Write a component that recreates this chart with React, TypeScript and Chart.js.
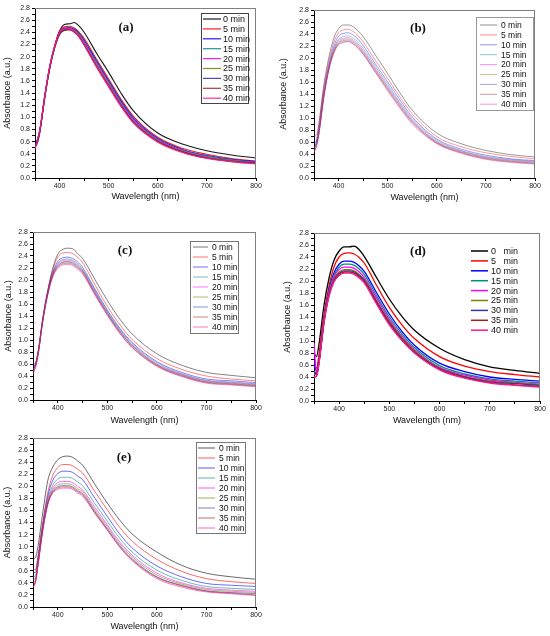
import { useEffect, useRef } from "react";
import { Chart, registerables } from "chart.js";

Chart.register(...registerables);
Chart.defaults.font.family = '"Liberation Sans", Arial, sans-serif';

// ---------- data ----------
const WAVELENGTHS = [350, 355, 360, 370, 380, 390, 400, 410, 420, 430, 440, 450, 475, 500, 525, 550, 600, 650, 700, 750, 800];
const TIME_LABELS = ["0 min", "5 min", "10 min", "15 min", "20 min", "25 min", "30 min", "35 min", "40 min"];
const TIME_LABELS_D = ["0   min", "5   min", "10 min", "15 min", "20 min", "25 min", "30 min", "35 min", "40 min"];
const X_TICK_STEP = 50;
const X_LABEL_STEP = 100;
const Y_TICK_STEP = 0.1;

const PANEL_A = [
  [0.50, 0.58, 0.76, 1.33, 1.80, 2.16, 2.42, 2.53, 2.54, 2.56, 2.50, 2.40, 2.06, 1.74, 1.40, 1.11, 0.74, 0.56, 0.45, 0.38, 0.33],
  [0.52, 0.62, 0.80, 1.36, 1.84, 2.18, 2.42, 2.49, 2.50, 2.47, 2.40, 2.30, 1.96, 1.63, 1.30, 1.02, 0.67, 0.49, 0.39, 0.32, 0.28],
  [0.55, 0.64, 0.80, 1.36, 1.84, 2.17, 2.40, 2.47, 2.48, 2.45, 2.38, 2.27, 1.93, 1.60, 1.27, 0.99, 0.65, 0.47, 0.37, 0.31, 0.27],
  [0.52, 0.62, 0.79, 1.35, 1.83, 2.16, 2.39, 2.46, 2.47, 2.44, 2.37, 2.25, 1.91, 1.58, 1.25, 0.97, 0.64, 0.46, 0.36, 0.30, 0.26],
  [0.50, 0.61, 0.79, 1.35, 1.83, 2.16, 2.38, 2.45, 2.46, 2.43, 2.35, 2.23, 1.89, 1.56, 1.23, 0.96, 0.63, 0.45, 0.35, 0.29, 0.26],
  [0.50, 0.60, 0.78, 1.34, 1.82, 2.15, 2.37, 2.44, 2.45, 2.42, 2.34, 2.21, 1.87, 1.54, 1.21, 0.94, 0.62, 0.44, 0.34, 0.29, 0.25],
  [0.52, 0.61, 0.78, 1.34, 1.82, 2.15, 2.37, 2.44, 2.45, 2.41, 2.33, 2.20, 1.85, 1.52, 1.20, 0.93, 0.61, 0.43, 0.33, 0.28, 0.25],
  [0.50, 0.60, 0.77, 1.33, 1.81, 2.14, 2.36, 2.43, 2.44, 2.40, 2.32, 2.19, 1.84, 1.51, 1.19, 0.92, 0.60, 0.43, 0.33, 0.27, 0.24],
  [0.48, 0.62, 0.80, 1.36, 1.84, 2.17, 2.40, 2.47, 2.46, 2.41, 2.32, 2.19, 1.83, 1.50, 1.18, 0.91, 0.59, 0.42, 0.32, 0.27, 0.23],
];

const PANEL_B = [
  [0.45, 0.62, 0.90, 1.55, 2.00, 2.32, 2.49, 2.55, 2.55, 2.52, 2.45, 2.36, 2.05, 1.74, 1.42, 1.13, 0.75, 0.57, 0.46, 0.39, 0.35],
  [0.70, 0.72, 0.90, 1.50, 1.94, 2.25, 2.42, 2.47, 2.48, 2.44, 2.37, 2.27, 1.96, 1.66, 1.35, 1.07, 0.69, 0.52, 0.42, 0.36, 0.32],
  [0.58, 0.62, 0.82, 1.44, 1.88, 2.19, 2.36, 2.41, 2.42, 2.38, 2.31, 2.21, 1.90, 1.60, 1.30, 1.02, 0.65, 0.48, 0.38, 0.32, 0.29],
  [0.50, 0.58, 0.78, 1.40, 1.85, 2.15, 2.31, 2.36, 2.37, 2.33, 2.26, 2.16, 1.86, 1.56, 1.26, 0.99, 0.63, 0.46, 0.36, 0.31, 0.28],
  [0.48, 0.56, 0.76, 1.38, 1.83, 2.13, 2.29, 2.33, 2.34, 2.30, 2.23, 2.13, 1.83, 1.53, 1.24, 0.97, 0.61, 0.45, 0.35, 0.30, 0.27],
  [0.44, 0.54, 0.75, 1.37, 1.82, 2.11, 2.27, 2.31, 2.32, 2.28, 2.21, 2.11, 1.81, 1.51, 1.22, 0.95, 0.60, 0.44, 0.34, 0.29, 0.26],
  [0.52, 0.56, 0.75, 1.36, 1.81, 2.10, 2.25, 2.29, 2.30, 2.26, 2.19, 2.09, 1.79, 1.49, 1.20, 0.94, 0.59, 0.43, 0.33, 0.28, 0.25],
  [0.45, 0.53, 0.74, 1.35, 1.80, 2.08, 2.23, 2.27, 2.28, 2.24, 2.17, 2.07, 1.77, 1.47, 1.18, 0.92, 0.58, 0.42, 0.32, 0.27, 0.24],
  [0.42, 0.52, 0.73, 1.34, 1.79, 2.07, 2.22, 2.26, 2.27, 2.23, 2.16, 2.06, 1.76, 1.45, 1.16, 0.90, 0.57, 0.41, 0.31, 0.26, 0.23],
];

const PANEL_C = [
  [0.55, 0.60, 0.78, 1.38, 1.84, 2.20, 2.43, 2.51, 2.53, 2.52, 2.44, 2.36, 2.01, 1.66, 1.35, 1.10, 0.77, 0.58, 0.46, 0.41, 0.37],
  [0.60, 0.62, 0.80, 1.38, 1.83, 2.17, 2.38, 2.45, 2.46, 2.44, 2.38, 2.29, 1.92, 1.56, 1.26, 1.01, 0.69, 0.51, 0.40, 0.35, 0.32],
  [0.52, 0.60, 0.78, 1.36, 1.81, 2.13, 2.31, 2.37, 2.38, 2.36, 2.30, 2.21, 1.85, 1.50, 1.20, 0.96, 0.64, 0.46, 0.35, 0.32, 0.29],
  [0.50, 0.58, 0.77, 1.35, 1.80, 2.11, 2.28, 2.34, 2.35, 2.33, 2.27, 2.18, 1.83, 1.48, 1.18, 0.94, 0.62, 0.44, 0.33, 0.30, 0.27],
  [0.48, 0.57, 0.76, 1.34, 1.79, 2.10, 2.26, 2.32, 2.33, 2.31, 2.25, 2.16, 1.81, 1.46, 1.16, 0.92, 0.60, 0.43, 0.32, 0.29, 0.26],
  [0.46, 0.56, 0.75, 1.34, 1.78, 2.09, 2.24, 2.30, 2.31, 2.29, 2.23, 2.15, 1.79, 1.45, 1.15, 0.91, 0.59, 0.42, 0.31, 0.28, 0.25],
  [0.52, 0.57, 0.75, 1.33, 1.78, 2.08, 2.23, 2.29, 2.30, 2.28, 2.22, 2.14, 1.78, 1.44, 1.14, 0.90, 0.58, 0.41, 0.30, 0.27, 0.24],
  [0.45, 0.55, 0.74, 1.33, 1.77, 2.07, 2.21, 2.27, 2.28, 2.26, 2.20, 2.12, 1.76, 1.42, 1.12, 0.88, 0.57, 0.40, 0.29, 0.26, 0.23],
  [0.43, 0.54, 0.74, 1.32, 1.76, 2.05, 2.19, 2.25, 2.26, 2.24, 2.18, 2.10, 1.75, 1.41, 1.11, 0.87, 0.56, 0.39, 0.28, 0.25, 0.22],
];

const PANEL_D = [
  [0.80, 0.74, 0.95, 1.60, 2.05, 2.35, 2.50, 2.57, 2.57, 2.58, 2.52, 2.41, 2.05, 1.70, 1.41, 1.18, 0.88, 0.69, 0.57, 0.51, 0.46],
  [0.60, 0.55, 0.78, 1.45, 1.92, 2.24, 2.40, 2.46, 2.47, 2.45, 2.39, 2.30, 1.92, 1.56, 1.27, 1.04, 0.74, 0.58, 0.49, 0.44, 0.40],
  [0.65, 0.50, 0.70, 1.38, 1.85, 2.14, 2.28, 2.33, 2.33, 2.31, 2.25, 2.16, 1.80, 1.45, 1.16, 0.93, 0.63, 0.49, 0.40, 0.36, 0.33],
  [0.50, 0.46, 0.68, 1.36, 1.83, 2.10, 2.23, 2.28, 2.28, 2.26, 2.20, 2.11, 1.75, 1.40, 1.12, 0.89, 0.59, 0.45, 0.37, 0.33, 0.30],
  [0.97, 0.47, 0.67, 1.35, 1.81, 2.07, 2.19, 2.23, 2.23, 2.21, 2.15, 2.06, 1.71, 1.36, 1.08, 0.86, 0.56, 0.43, 0.35, 0.31, 0.28],
  [0.45, 0.44, 0.66, 1.34, 1.79, 2.04, 2.15, 2.19, 2.19, 2.17, 2.11, 2.03, 1.67, 1.33, 1.06, 0.84, 0.55, 0.41, 0.33, 0.30, 0.27],
  [0.50, 0.44, 0.65, 1.33, 1.78, 2.02, 2.13, 2.17, 2.17, 2.15, 2.09, 2.01, 1.65, 1.31, 1.04, 0.82, 0.54, 0.40, 0.32, 0.29, 0.26],
  [0.40, 0.42, 0.64, 1.32, 1.76, 2.00, 2.11, 2.15, 2.15, 2.13, 2.07, 1.99, 1.63, 1.29, 1.02, 0.81, 0.53, 0.39, 0.31, 0.27, 0.24],
  [0.40, 0.41, 0.63, 1.31, 1.75, 1.99, 2.09, 2.13, 2.13, 2.11, 2.05, 1.97, 1.61, 1.27, 1.01, 0.80, 0.52, 0.38, 0.30, 0.26, 0.23],
];

const PANEL_E = [
  [0.80, 0.82, 1.00, 1.58, 2.10, 2.32, 2.44, 2.49, 2.50, 2.48, 2.42, 2.35, 2.03, 1.72, 1.44, 1.21, 0.91, 0.69, 0.56, 0.50, 0.46],
  [0.63, 0.62, 0.85, 1.42, 1.90, 2.18, 2.31, 2.36, 2.36, 2.34, 2.28, 2.22, 1.91, 1.61, 1.32, 1.09, 0.79, 0.59, 0.47, 0.42, 0.39],
  [0.58, 0.57, 0.80, 1.38, 1.84, 2.10, 2.21, 2.25, 2.25, 2.23, 2.17, 2.11, 1.80, 1.50, 1.21, 0.98, 0.68, 0.50, 0.39, 0.36, 0.34],
  [0.50, 0.52, 0.76, 1.35, 1.79, 2.02, 2.12, 2.15, 2.15, 2.13, 2.07, 2.01, 1.71, 1.42, 1.14, 0.91, 0.61, 0.44, 0.34, 0.31, 0.29],
  [0.45, 0.48, 0.73, 1.33, 1.76, 1.97, 2.06, 2.08, 2.08, 2.06, 2.00, 1.94, 1.65, 1.36, 1.08, 0.86, 0.56, 0.40, 0.31, 0.28, 0.26],
  [0.40, 0.45, 0.71, 1.31, 1.74, 1.94, 2.02, 2.04, 2.04, 2.02, 1.96, 1.91, 1.61, 1.33, 1.05, 0.83, 0.53, 0.38, 0.29, 0.26, 0.24],
  [0.35, 0.43, 0.70, 1.30, 1.72, 1.92, 1.99, 2.01, 2.01, 1.99, 1.93, 1.88, 1.58, 1.30, 1.02, 0.80, 0.50, 0.36, 0.27, 0.24, 0.22],
  [0.33, 0.42, 0.69, 1.29, 1.71, 1.90, 1.97, 1.99, 1.99, 1.97, 1.91, 1.86, 1.56, 1.28, 1.00, 0.78, 0.49, 0.35, 0.26, 0.23, 0.20],
  [0.33, 0.40, 0.68, 1.28, 1.70, 1.89, 1.95, 1.97, 1.97, 1.95, 1.89, 1.84, 1.55, 1.27, 0.99, 0.77, 0.47, 0.33, 0.25, 0.22, 0.19],
];

const SERIES_COLORS = ["#000000", "#FF0000", "#0000FF", "#008B8B", "#FF00FF", "#808000", "#3535B0", "#A02020", "#FF1493"];

// ---------- layout / style (page pixel coordinates) ----------
type Box = { x: number; y: number; w: number; h: number };
type Spec = {
  id: string;
  label: string;
  series: number[][];
  labels: string[];
  canvas: Box;
  plot: { l: number; t: number; r: number; b: number };
  yTitleX: number;
  xTitleY: number;
  tag: { x: number; y: number };
  alpha: number;
  lineWidth: number;
  legend: {
    box: Box | null;
    boxColor: string;
    lineX0: number;
    lineX1: number;
    textX: number;
    row0: number;
    gap: number;
    font: number;
    lw: number;
  };
};

const SPECS: Spec[] = [
  {
    id: "a", label: "(a)", series: PANEL_A, labels: TIME_LABELS,
    canvas: { x: 0, y: 0, w: 275, h: 205 },
    plot: { l: 35, t: 8, r: 256, b: 178 }, yTitleX: 8, xTitleY: 197,
    tag: { x: 126, y: 28 }, alpha: 0.9, lineWidth: 1.1,
    legend: { box: { x: 201, y: 13, w: 47, h: 90 }, boxColor: "#444", lineX0: 203, lineX1: 221, textX: 223, row0: 19, gap: 9.9, font: 9, lw: 1.2 },
  },
  {
    id: "b", label: "(b)", series: PANEL_B, labels: TIME_LABELS,
    canvas: { x: 275, y: 0, w: 275, h: 206 },
    plot: { l: 314, t: 10, r: 535, b: 178 }, yTitleX: 284, xTitleY: 198,
    tag: { x: 418, y: 29 }, alpha: 0.45, lineWidth: 0.9,
    legend: { box: { x: 476, y: 17, w: 57, h: 93 }, boxColor: "#999", lineX0: 480, lineX1: 497, textX: 501, row0: 25, gap: 9.9, font: 8.5, lw: 1 },
  },
  {
    id: "c", label: "(c)", series: PANEL_C, labels: TIME_LABELS,
    canvas: { x: 0, y: 215, w: 275, h: 212 },
    plot: { l: 33, t: 232, r: 256, b: 400 }, yTitleX: 9, xTitleY: 421,
    tag: { x: 125, y: 251 }, alpha: 0.55, lineWidth: 0.9,
    legend: { box: { x: 190, y: 241, w: 48, h: 92 }, boxColor: "#777", lineX0: 193, lineX1: 208, textX: 212, row0: 247, gap: 10, font: 8.5, lw: 1 },
  },
  {
    id: "d", label: "(d)", series: PANEL_D, labels: TIME_LABELS_D,
    canvas: { x: 275, y: 215, w: 275, h: 212 },
    plot: { l: 314, t: 233, r: 540, b: 401 }, yTitleX: 288, xTitleY: 421,
    tag: { x: 418, y: 252 }, alpha: 1, lineWidth: 1.3,
    legend: { box: null, boxColor: "#000", lineX0: 471, lineX1: 488, textX: 491, row0: 251, gap: 9.9, font: 9, lw: 1.5 },
  },
  {
    id: "e", label: "(e)", series: PANEL_E, labels: TIME_LABELS,
    canvas: { x: 0, y: 425, w: 275, h: 211 },
    plot: { l: 33, t: 438, r: 256, b: 607 }, yTitleX: 8, xTitleY: 627,
    tag: { x: 124, y: 458 }, alpha: 0.65, lineWidth: 0.9,
    legend: { box: { x: 196, y: 442, w: 49, h: 91 }, boxColor: "#777", lineX0: 198, lineX1: 215, textX: 219, row0: 448, gap: 10, font: 8.5, lw: 1 },
  },
];

const TITLE_FONT = 9;
const TITLE_LH = TITLE_FONT * 1.2;
const TICK_FONT = 7;

function withAlpha(hex: string, a: number): string {
  const n = parseInt(hex.slice(1), 16);
  return `rgba(${(n >> 16) & 255},${(n >> 8) & 255},${n & 255},${a})`;
}

function makeOverlay(spec: Spec) {
  return {
    id: "overlay-" + spec.id,
    afterDraw(chart: any) {
      const { ctx, chartArea } = chart;
      const { left, top, right, bottom } = chartArea;
      const ox = spec.canvas.x;
      const oy = spec.canvas.y;
      ctx.save();
      // top & right frame
      ctx.strokeStyle = "#808080";
      ctx.lineWidth = 1;
      ctx.beginPath();
      ctx.moveTo(left, top + 0.5);
      ctx.lineTo(right, top + 0.5);
      ctx.moveTo(right - 0.5, top);
      ctx.lineTo(right - 0.5, bottom);
      ctx.stroke();
      // panel tag
      ctx.fillStyle = "#111";
      ctx.font = 'bold 13px "Liberation Serif", "Times New Roman", serif';
      ctx.textAlign = "center";
      ctx.textBaseline = "middle";
      ctx.fillText(spec.label, spec.tag.x - ox, spec.tag.y - oy);
      // legend
      const lg = spec.legend;
      if (lg.box) {
        ctx.strokeStyle = lg.boxColor;
        ctx.lineWidth = 1;
        ctx.strokeRect(lg.box.x - ox + 0.5, lg.box.y - oy + 0.5, lg.box.w, lg.box.h);
      }
      ctx.textAlign = "left";
      ctx.font = `${lg.font}px "Liberation Sans", Arial, sans-serif`;
      chart.data.datasets.forEach((ds: any, i: number) => {
        const y = lg.row0 + i * lg.gap - oy;
        ctx.strokeStyle = ds.borderColor;
        ctx.lineWidth = lg.lw;
        ctx.beginPath();
        ctx.moveTo(lg.lineX0 - ox, y);
        ctx.lineTo(lg.lineX1 - ox, y);
        ctx.stroke();
        ctx.fillStyle = "#111";
        ctx.fillText(ds.label, lg.textX - ox, y + 0.5);
      });
      ctx.restore();
    },
  };
}

function Panel({ spec }: { spec: Spec }) {
  const ref = useRef<HTMLCanvasElement>(null);
  useEffect(() => {
    const canvas = ref.current;
    if (!canvas) return;
    const cv = spec.canvas;
    const p = spec.plot;
    const padLeft = spec.yTitleX - cv.x - TITLE_LH / 2;
    const yW = p.l - cv.x - padLeft;
    const padBottom = cv.h - (spec.xTitleY - cv.y + TITLE_LH / 2);
    const xH = cv.h - padBottom - (p.b - cv.y);
    const padTop = p.t - cv.y;
    const padRight = cv.x + cv.w - p.r;

    const datasets = spec.series.map((vals, i) => ({
      label: spec.labels[i],
      data: WAVELENGTHS.map((w, j) => ({ x: w, y: vals[j] })),
      borderColor: spec.alpha >= 1 ? SERIES_COLORS[i] : withAlpha(SERIES_COLORS[i], spec.alpha),
      borderWidth: spec.lineWidth,
      pointRadius: 0,
      fill: false,
      cubicInterpolationMode: "monotone" as const,
      order: spec.series.length - i,
    }));

    const chart = new Chart(canvas, {
      type: "line",
      data: { datasets },
      options: {
        animation: false,
        responsive: false,
        maintainAspectRatio: false,
        events: [],
        layout: { padding: { left: padLeft, top: padTop, right: padRight, bottom: padBottom } },
        plugins: { legend: { display: false }, tooltip: { enabled: false }, title: { display: false } },
        scales: {
          x: {
            type: "linear",
            min: 350,
            max: 800,
            afterFit: (s: any) => { s.height = xH; },
            ticks: {
              stepSize: X_TICK_STEP,
              autoSkip: false,
              maxRotation: 0,
              padding: 1,
              color: "#222",
              font: { size: TICK_FONT },
              callback: (v: any) => (Number(v) % X_LABEL_STEP === 0 ? String(v) : ""),
            },
            grid: { drawOnChartArea: false, tickLength: 3, color: "#000" },
            border: { color: "#000", width: 1 },
            title: { display: true, text: "Wavelength (nm)", color: "#111", font: { size: TITLE_FONT }, padding: 0 },
          },
          y: {
            type: "linear",
            min: 0,
            max: 2.8,
            afterFit: (s: any) => { s.width = yW; },
            ticks: {
              stepSize: Y_TICK_STEP,
              autoSkip: false,
              padding: 2,
              color: "#222",
              font: { size: TICK_FONT },
              callback: (v: any) => (Math.round(Number(v) * 10) % 2 === 0 ? Number(v).toFixed(1) : ""),
            },
            grid: { drawOnChartArea: false, tickLength: 3, color: "#000" },
            border: { color: "#000", width: 1 },
            title: { display: true, text: "Absorbance (a.u.)", color: "#111", font: { size: TITLE_FONT }, padding: 0 },
          },
        },
      },
      plugins: [makeOverlay(spec)],
    });

    // correct for automatic label overflow padding so the plot area lands exactly
    const ca = chart.chartArea;
    const dT = p.t - cv.y - ca.top;
    const dR = ca.right - (p.r - cv.x);
    const dL = p.l - cv.x - ca.left;
    const dB = ca.bottom - (p.b - cv.y);
    if (Math.abs(dT) > 0.05 || Math.abs(dR) > 0.05 || Math.abs(dL) > 0.05 || Math.abs(dB) > 0.05) {
      (chart.options as any).layout.padding = {
        left: padLeft + dL,
        top: padTop + dT,
        right: padRight + dR,
        bottom: padBottom + dB,
      };
      chart.update();
    }
    return () => chart.destroy();
  }, [spec]);

  return (
    <canvas
      ref={ref}
      width={spec.canvas.w}
      height={spec.canvas.h}
      style={{ position: "absolute", left: spec.canvas.x, top: spec.canvas.y, width: spec.canvas.w, height: spec.canvas.h }}
    />
  );
}

export default function App() {
  return (
    <div style={{ position: "absolute", left: 0, top: 0, width: 550, height: 636, background: "#fff", overflow: "hidden" }}>
      {SPECS.map((s) => (
        <Panel key={s.id} spec={s} />
      ))}
    </div>
  );
}
